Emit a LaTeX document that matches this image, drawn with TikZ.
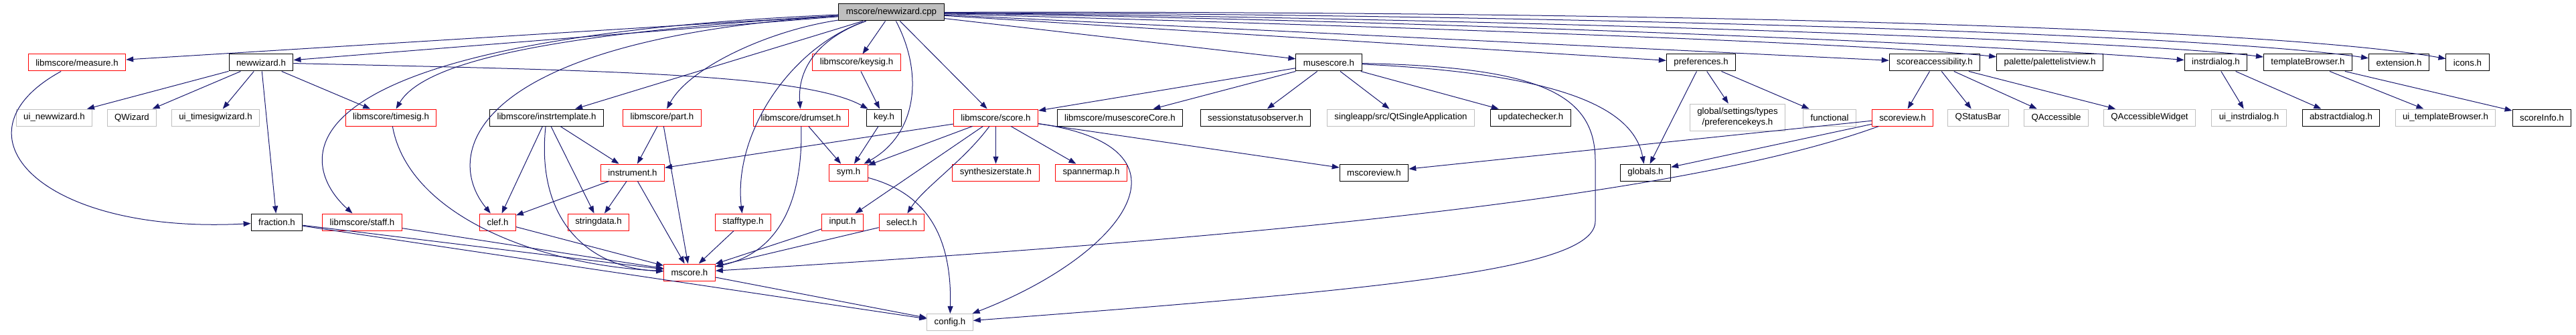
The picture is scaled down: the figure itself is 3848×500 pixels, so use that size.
\documentclass[tikz,border=0pt]{standalone}
\usepackage{fontspec}
\setmainfont{Liberation Sans}
\usetikzlibrary{arrows.meta}
\definecolor{edgeblue}{HTML}{191970}
\definecolor{boxgray}{HTML}{BFBFBF}

\begin{document}
\begin{tikzpicture}[x=1pt, y=-1pt, >={Triangle[length=11pt,width=8pt]},
    file/.style={draw=black, rectangle, line width=1pt, inner xsep=11pt, inner ysep=2pt,
      minimum height=25pt, font=\fontsize{13.3}{16}\selectfont},
    redfile/.style={file, draw=red},
    sysfile/.style={file, draw=boxgray},
    rootfile/.style={file, fill=boxgray},
    dep/.style={->, draw=edgeblue, line width=1pt}]
  \useasboundingbox (0,0) rectangle (3848,500);

  % top
  \node[rootfile] (root) at (1331.5,18.5) {mscore/newwizard.cpp};

  % row 1
  \node[redfile] (measure)     at (115,93.5)    {libmscore/measure.h};
  \node[file]    (newwiz)      at (390,93.5)    {newwizard.h};
  \node[redfile] (keysig)      at (1279.5,93.5) {libmscore/keysig.h};
  \node[file]    (musescore)   at (1985,93.5)   {musescore.h};
  \node[file]    (prefs)       at (2541,93.5)   {preferences.h};
  \node[file]    (access)      at (2890,93.5)   {scoreaccessibility.h};
  \node[file]    (palette)     at (3062,93.5)   {palette/palettelistview.h};
  \node[file]    (instrdlg)    at (3310,93.5)   {instrdialog.h};
  \node[file]    (tmplbrowser) at (3447.5,93.5) {templateBrowser.h};
  \node[file]    (extension)   at (3583.5,93.5) {extension.h};
  \node[file]    (icons)       at (3686,93.5)   {icons.h};

  % row 2
  \node[sysfile] (uinewwiz)    at (81,175.5)    {ui\_newwizard.h};
  \node[sysfile] (qwizard)     at (197,175.5)   {QWizard};
  \node[sysfile] (uitimesig)   at (322,175.5)   {ui\_timesigwizard.h};
  \node[redfile] (timesig)     at (584,175.5)   {libmscore/timesig.h};
  \node[file]    (instrtmpl)   at (816.5,175.5) {libmscore/instrtemplate.h};
  \node[redfile] (part)        at (989,175.5)   {libmscore/part.h};
  \node[redfile] (drumset)     at (1196.5,175.5) {libmscore/drumset.h};
  \node[file]    (key)         at (1320.5,175.5) {key.h};
  \node[redfile] (score)       at (1487.5,175.5) {libmscore/score.h};
  \node[file]    (core)        at (1673,175.5)  {libmscore/musescoreCore.h};
  \node[file]    (session)     at (1875.5,175.5) {sessionstatusobserver.h};
  \node[sysfile] (singleapp)   at (2092.5,175.5) {singleapp/src/QtSingleApplication};
  \node[file]    (updater)     at (2286.5,175.5) {updatechecker.h};
  \node[sysfile, align=center, minimum height=40pt] (prefkeys) at (2595.5,175)
    {global/settings/types\\/preferencekeys.h};
  \node[sysfile] (functional)  at (2733,175.5)  {functional};
  \node[redfile] (scoreview)   at (2842,175.5)  {scoreview.h};
  \node[sysfile] (statusbar)   at (2955,175.5)  {QStatusBar};
  \node[sysfile] (qacc)        at (3071.5,175.5) {QAccessible};
  \node[sysfile] (qaccwidget)  at (3211,175.5)  {QAccessibleWidget};
  \node[sysfile] (uiinstrdlg)  at (3359.5,175.5) {ui\_instrdialog.h};
  \node[file]    (abstractdlg) at (3497,175.5)  {abstractdialog.h};
  \node[sysfile] (uitmpl)      at (3653,175.5)  {ui\_templateBrowser.h};
  \node[file]    (scoreinfo)   at (3797,175.5)  {scoreInfo.h};

  % row 3
  \node[redfile] (instrument)  at (945,257.5)   {instrument.h};
  \node[redfile] (sym)         at (1267.5,257.5) {sym.h};
  \node[redfile] (synth)       at (1487.5,257.5) {synthesizerstate.h};
  \node[redfile] (spanner)     at (1630,257.5)  {spannermap.h};
  \node[file]    (mscoreview)  at (2052.5,257.5) {mscoreview.h};
  \node[file]    (globals)     at (2458,257.5)  {globals.h};

  % row 4
  \node[file]    (fraction)    at (413.5,331.5) {fraction.h};
  \node[redfile] (staff)       at (541,331.5)   {libmscore/staff.h};
  \node[redfile] (clef)        at (743.5,331.5) {clef.h};
  \node[redfile] (stringdata)  at (894,331.5)   {stringdata.h};
  \node[redfile] (stafftype)   at (1110,331.5)  {stafftype.h};
  \node[redfile] (input)       at (1258.5,331.5) {input.h};
  \node[redfile] (select)      at (1347,331.5)  {select.h};

  % bottom
  \node[redfile] (mscore)      at (1030,406.5)  {mscore.h};
  \node[sysfile] (config)      at (1419,481)    {config.h};

  % edges from the cpp file
  \draw[dep] (root) -- (measure);
  \draw[dep] (root) -- (newwiz);
  \draw[dep] (root) .. controls (900,45) and (640,80) .. (timesig);
  \draw[dep] (root) .. controls (380,60) and (450,250) .. (staff);
  \draw[dep] (root) .. controls (700,60) and (660,230) .. (clef);
  \draw[dep] (root) -- (instrtmpl);
  \draw[dep] (root) .. controls (1150,45) and (1030,100) .. (part);
  \draw[dep] (root) .. controls (1180,70) and (1095,200) .. (stafftype);
  \draw[dep] (root) .. controls (1240,50) and (1190,90) .. (drumset);
  \draw[dep] (root) -- (keysig);
  \draw[dep] (root) .. controls (1380,110) and (1370,200) .. (sym);
  \draw[dep] (root) -- (score);
  \draw[dep] (root) -- (musescore);
  \draw[dep] (root) -- (prefs);
  \draw[dep] (root) -- (access);
  \draw[dep] (root) .. controls (2100,40) and (2800,65) .. (palette);
  \draw[dep] (root) .. controls (2200,32) and (3000,68) .. (instrdlg);
  \draw[dep] (root) .. controls (2300,28) and (3200,62) .. (tmplbrowser);
  \draw[dep] (root) .. controls (2400,22) and (3300,52) .. (extension);
  \draw[dep] (root) .. controls (2500,16) and (3400,42) .. (icons);

  % newwizard.h and measure.h
  \draw[dep] (newwiz) -- (uinewwiz);
  \draw[dep] (newwiz) -- (qwizard);
  \draw[dep] (newwiz) -- (uitimesig);
  \draw[dep] (newwiz) -- (fraction);
  \draw[dep] (newwiz) -- (timesig);
  \draw[dep] (newwiz) .. controls (900,105) and (1200,110) .. (key);
  \draw[dep] (measure) .. controls (-80,200) and (60,350) .. (fraction);

  % libmscore headers
  \draw[dep] (timesig) .. controls (610,320) and (800,395) .. (mscore);
  \draw[dep] (staff) -- (mscore);
  \draw[dep] (fraction) -- (mscore);
  \draw[dep] (fraction) -- (config);
  \draw[dep] (instrtmpl) -- (clef);
  \draw[dep] (instrtmpl) .. controls (800,330) and (880,400) .. (mscore);
  \draw[dep] (instrtmpl) -- (stringdata);
  \draw[dep] (instrtmpl) -- (instrument);
  \draw[dep] (part) -- (instrument);
  \draw[dep] (part) -- (mscore);
  \draw[dep] (instrument) -- (clef);
  \draw[dep] (instrument) -- (stringdata);
  \draw[dep] (instrument) -- (mscore);
  \draw[dep] (clef) -- (mscore);
  \draw[dep] (stafftype) -- (mscore);
  \draw[dep] (drumset) .. controls (1200,320) and (1150,380) .. (mscore);
  \draw[dep] (drumset) -- (sym);
  \draw[dep] (input) -- (mscore);
  \draw[dep] (select) -- (mscore);
  \draw[dep] (keysig) -- (key);
  \draw[dep] (key) -- (sym);
  \draw[dep] (sym) .. controls (1390,290) and (1422,360) .. (config);
  \draw[dep] (mscore) -- (config);

  % score.h
  \draw[dep] (score) -- (instrument);
  \draw[dep] (score) -- (sym);
  \draw[dep] (score) -- (synth);
  \draw[dep] (score) -- (spanner);
  \draw[dep] (score) -- (input);
  \draw[dep] (score) .. controls (1440,240) and (1380,280) .. (select);
  \draw[dep] (score) .. controls (1800,220) and (1680,380) .. (config);
  \draw[dep] (score) -- (mscoreview);

  % musescore.h
  \draw[dep] (musescore) -- (score);
  \draw[dep] (musescore) -- (core);
  \draw[dep] (musescore) -- (session);
  \draw[dep] (musescore) -- (singleapp);
  \draw[dep] (musescore) -- (updater);
  \draw[dep] (musescore) .. controls (2330,110) and (2440,160) .. (globals);
  \draw[dep] (musescore) .. controls (2300,100) and (2383,140) .. (2383,240)
    -- (2383,330) .. controls (2383,400) and (2100,430) .. (config);

  % right part
  \draw[dep] (prefs) -- (globals);
  \draw[dep] (prefs) -- (prefkeys);
  \draw[dep] (prefs) -- (functional);
  \draw[dep] (access) -- (scoreview);
  \draw[dep] (access) -- (statusbar);
  \draw[dep] (access) -- (qacc);
  \draw[dep] (access) -- (qaccwidget);
  \draw[dep] (scoreview) -- (mscoreview);
  \draw[dep] (scoreview) -- (globals);
  \draw[dep] (scoreview) .. controls (2500,300) and (1800,360) .. (mscore);
  \draw[dep] (instrdlg) -- (uiinstrdlg);
  \draw[dep] (instrdlg) -- (abstractdlg);
  \draw[dep] (tmplbrowser) -- (uitmpl);
  \draw[dep] (tmplbrowser) -- (scoreinfo);
\end{tikzpicture}
\end{document}
